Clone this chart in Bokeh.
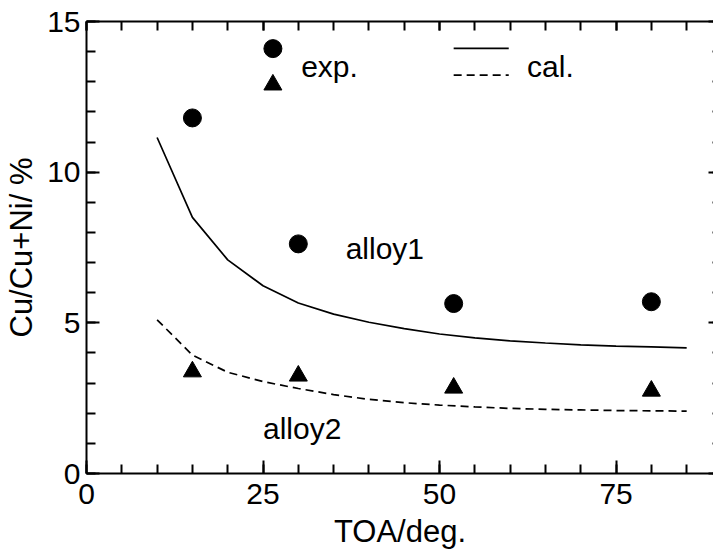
from bokeh.plotting import figure
from bokeh.models import Range1d, LinearAxis, SingleIntervalTicker, CustomJSTickFormatter
from bokeh.core.properties import value
from bokeh.embed import file_html
from bokeh.resources import INLINE

# measured Cu/(Cu+Ni) ratios at each take-off angle
toa_exp = [15, 30, 52, 80]
alloy1_exp = [11.8, 7.62, 5.64, 5.70]
alloy2_exp = [3.38, 3.24, 2.84, 2.74]

# calculated curves
toa_cal = [10, 15, 20, 25, 30, 35, 40, 45, 50, 55, 60, 65, 70, 75, 80, 85]
alloy1_cal = [11.15, 8.5, 7.09, 6.23, 5.66, 5.29, 5.02, 4.81, 4.63, 4.50,
              4.40, 4.33, 4.27, 4.23, 4.20, 4.17]
alloy2_cal = [5.10, 3.93, 3.36, 3.05, 2.82, 2.62, 2.46, 2.35, 2.27, 2.21,
              2.16, 2.13, 2.11, 2.09, 2.08, 2.07]

FONT = value("Liberation Sans")
BLACK = "#000000"

p = figure(width=713, height=555,
           x_range=Range1d(0, 88.8), y_range=Range1d(0, 15),
           x_axis_type=None, y_axis_type=None,
           output_backend="svg", toolbar_location=None,
           min_border_left=86, min_border_right=0,
           min_border_top=21, min_border_bottom=82)
p.outline_line_color = None
p.background_fill_color = "white"
p.border_fill_color = "white"


def style_axis(ax, tick_in, minor_in, labels=True):
    ax.axis_line_color = BLACK
    ax.axis_line_width = 2
    ax.major_tick_line_color = BLACK
    ax.minor_tick_line_color = BLACK
    ax.major_tick_line_width = 2
    ax.minor_tick_line_width = 2
    ax.major_tick_in = tick_in
    ax.major_tick_out = 0
    ax.minor_tick_in = minor_in
    ax.minor_tick_out = 0
    ax.major_label_text_font = "Liberation Sans"
    ax.major_label_text_color = BLACK
    ax.axis_label_text_font = "Liberation Sans"
    ax.axis_label_text_font_style = "normal"
    ax.axis_label_text_color = BLACK
    if labels:
        ax.major_label_text_font_size = "30px"
        ax.axis_label_text_font_size = "31px"
    else:
        # frame edges carry ticks only
        ax.formatter = CustomJSTickFormatter(code="return ''")
        ax.major_label_text_font_size = "1px"
        ax.major_label_standoff = 0


xb = LinearAxis(ticker=SingleIntervalTicker(interval=25, num_minor_ticks=5),
                axis_label="TOA/deg.")
style_axis(xb, 13, 9)
xb.major_label_standoff = 10
xb.axis_label_standoff = 7
p.add_layout(xb, "below")

yl = LinearAxis(ticker=SingleIntervalTicker(interval=5, num_minor_ticks=5),
                axis_label="Cu/Cu+Ni/ %")
style_axis(yl, 13, 9)
yl.major_label_standoff = 6
yl.axis_label_standoff = 5
p.add_layout(yl, "left")

xt = LinearAxis(ticker=SingleIntervalTicker(interval=25, num_minor_ticks=5))
style_axis(xt, 9, 9, labels=False)
p.add_layout(xt, "above")

yr = LinearAxis(ticker=SingleIntervalTicker(interval=5, num_minor_ticks=5))
style_axis(yr, 5, 1, labels=False)
yr.axis_line_color = None
p.add_layout(yr, "right")

# calculated curves
p.line(toa_cal, alloy1_cal, line_color=BLACK, line_width=1.7)
p.line(toa_cal, alloy2_cal, line_color=BLACK, line_width=1.7, line_dash="8 5")

# experimental points
p.scatter(toa_exp, alloy1_exp, marker="circle", size=18,
          fill_color=BLACK, line_color=BLACK)
p.scatter(toa_exp, alloy2_exp, marker="triangle", size=18,
          fill_color=BLACK, line_color=BLACK)

# key in the upper part of the frame
p.scatter([26.4], [14.1], marker="circle", size=18, fill_color=BLACK, line_color=BLACK)
p.scatter([26.4], [12.9], marker="triangle", size=18, fill_color=BLACK, line_color=BLACK)
p.line([52.0, 59.8], [14.11, 14.11], line_color=BLACK, line_width=1.7)
p.line([52.0, 59.8], [13.22, 13.22], line_color=BLACK, line_width=1.7, line_dash="8 5")

p.text(x=[30.4, 62.4, 36.7, 25.0], y=[13.52, 13.5, 7.48, 1.48],
       text=["exp.", "cal.", "alloy1", "alloy2"],
       text_font=FONT, text_font_size="30px", text_color=BLACK,
       text_align="left", text_baseline="alphabetic")

open("out.html", "w").write(file_html(p, INLINE))
